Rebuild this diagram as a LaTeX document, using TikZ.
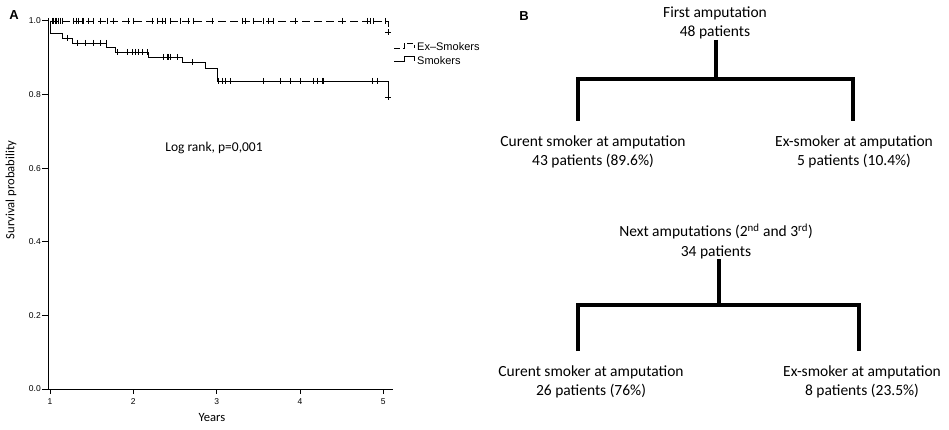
\documentclass[tikz,border=0pt]{standalone}
\usepackage{fontspec}
\setmainfont{Carlito}
\newfontfamily\arialf{Liberation Sans}
\begin{document}
\begin{tikzpicture}[x=1pt,y=-1pt,
  treetext/.style={align=center,font=\fontsize{15.5}{19.5}\selectfont,inner sep=0pt},
  branch/.style={line width=3.2pt,line join=miter},
  axisline/.style={line width=1pt},
  ticklab/.style={font=\arialf\fontsize{8.5}{10}\selectfont,inner sep=0pt},
  surv/.style={line width=0.9pt},
  censor/.style={line width=0.8pt},
  panellab/.style={font=\arialf\bfseries\fontsize{13}{15}\selectfont,inner sep=0pt},
  legtext/.style={font=\arialf\fontsize{11}{12}\selectfont,anchor=west,inner sep=0pt},
  plottext/.style={font=\fontsize{13.5}{15}\selectfont,inner sep=0pt},
  axistitle/.style={font=\fontsize{12.6}{14}\selectfont,inner sep=0pt}
]
\useasboundingbox (0,0) rectangle (949,430);

% ---------------- Panel A ----------------
\node[panellab] (labA) at (14,15) {A};

% axes
\draw[axisline] (48,18) -- (48,389) -- (393,389);
\foreach \yy/\l [count=\i] in {389/0.0,315.4/0.2,241.8/0.4,168.2/0.6,94.6/0.8,21/1.0}{
  \draw[axisline] (42,\yy) -- (48,\yy);
  \node[ticklab,anchor=east] (ytick\i) at (41,\yy) {\l};
}
\foreach \xx/\l in {50/1,133.3/2,216.7/3,300/4,383.3/5}{
  \draw[axisline] (\xx,389) -- (\xx,394);
  \node[ticklab] (xtick\l) at (\xx,401.5) {\l};
}
\node[axistitle,rotate=90] (ytitle) at (11,190) {Survival probability};
\node[axistitle] (xtitle) at (212,418) {Years};
\node[plottext] (logrank) at (214,148) {Log rank, p=0,001};

% Ex-smokers curve (dashed)
\draw[surv,dash pattern=on 8pt off 4pt] (50,21) -- (388,21) -- (388,32);
\foreach \x in {52,53.5,55,56.5,58,60,62,73,76,78,82,83.5,88,93,100,107,113,128,133,152,157,162,165,170,180,188,193,212,242,245,253,263,268,273,295,342,367,370,373,385}{
  \draw[censor] (\x,18) -- (\x,24);
}
\draw[censor] (385,32) -- (391,32) (388,29) -- (388,35);

% Smokers curve (solid)
\draw[surv] (50,21) -- (50,33) -- (62,33) -- (62,38) -- (72,38) -- (72,43) -- (106,43) -- (106,47) -- (115,47) -- (115,52) -- (148,52) -- (148,57) -- (182,57) -- (182,62) -- (205,62) -- (205,68) -- (217,68) -- (217,81) -- (388,81) -- (388,97);
\foreach \x/\y in {67/38,77/43,85/43,93/43,100/43,106/43,117/52,127/52,132/52,135/52,138/52,142/52,147/52,163/57,167/57,168.5/57,170/57,177/57,192/62,218/81,222/81,225/81,230/81,263/81,280/81,290/81,300/81,313/81,317/81,322/81,323/81,372/81,377/81}{
  \draw[censor] (\x,\y-3) -- (\x,\y+3);
}
\draw[censor] (385,97) -- (391,97) (388,94) -- (388,100);

% legend
\draw[surv,dash pattern=on 6pt off 3pt] (394,48) -- (404,48) -- (404,43) -- (414,43) -- (414,48);
\draw[surv] (394,61) -- (404,61) -- (404,56) -- (414,56) -- (414,61);
\node[legtext] (legex) at (417,46.5) {Ex–Smokers};
\node[legtext] (legsm) at (417,60.5) {Smokers};

% ---------------- Panel B ----------------
\node[panellab] (labB) at (524,16) {B};

% first tree
\node[treetext] (first) at (715,23) {First amputation\\48 patients};
\coordinate (j1) at (716,79);
\coordinate (l1) at (578,121);
\coordinate (r1) at (853,121);
\draw[branch] (j1 |- first.south) -- (j1);
\draw[branch] (l1) -- (l1 |- j1) -- (r1 |- j1) -- (r1);
\node[treetext] (cur1) at (593,152) {Curent smoker at amputation\\43 patients (89.6\%)};
\node[treetext] (ex1) at (854,152) {Ex-smoker at amputation\\5 patients (10.4\%)};

% second tree
\node[treetext] (next) at (716,241.5) {Next amputations (2\textsuperscript{nd} and 3\textsuperscript{rd})\\34 patients};
\coordinate (j2) at (719,305);
\coordinate (l2) at (578,351);
\coordinate (r2) at (859,351);
\draw[branch] (j2 |- next.south) -- (j2);
\draw[branch] (l2) -- (l2 |- j2) -- (r2 |- j2) -- (r2);
\node[treetext] (cur2) at (591,382) {Curent smoker at amputation\\26 patients (76\%)};
\node[treetext] (ex2) at (862,382) {Ex-smoker at amputation\\8 patients (23.5\%)};
\end{tikzpicture}
\end{document}
